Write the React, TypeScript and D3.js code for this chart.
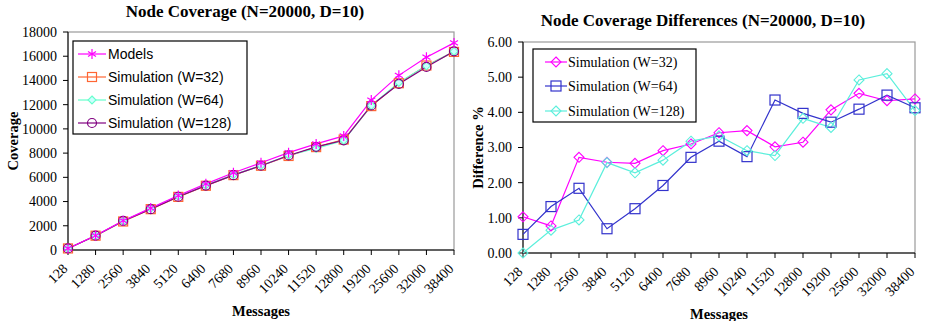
import React from "react";
import * as d3 from "d3";

const messages = ["128", "1280", "2560", "3840", "5120", "6400", "7680", "8960", "10240", "11520", "12800", "19200", "25600", "32000", "38400"];

// left chart: node coverage
const models = [130, 1190, 2420, 3460, 4500, 5460, 6380, 7200, 8040, 8760, 9420, 12380, 14420, 15920, 17100];
const simW32 = [129, 1181, 2355, 3371, 4385, 5303, 6182, 6957, 7763, 8495, 9123, 11881, 13771, 15232, 16356];
const simW64 = [129, 1174, 2376, 3436, 4443, 5355, 6208, 6971, 7823, 8381, 9048, 11922, 13836, 15212, 16395];
const simW128 = [130, 1182, 2397, 3372, 4398, 5317, 6178, 6959, 7807, 8517, 9057, 11934, 13713, 15116, 16404];
const coverageTicks = [0, 2000, 4000, 6000, 8000, 10000, 12000, 14000, 16000, 18000];

// right chart: differences in %
const diffW32 = [1.03, 0.77, 2.72, 2.58, 2.55, 2.91, 3.1, 3.42, 3.48, 3.02, 3.15, 4.07, 4.54, 4.33, 4.38];
const diffW64 = [0.53, 1.32, 1.84, 0.69, 1.26, 1.92, 2.72, 3.18, 2.74, 4.35, 3.97, 3.72, 4.09, 4.49, 4.13];
const diffW128 = [0.0, 0.65, 0.94, 2.57, 2.28, 2.64, 3.18, 3.33, 2.91, 2.77, 3.83, 3.57, 4.92, 5.1, 4.05];
const diffTicks = [0, 1, 2, 3, 4, 5, 6];

const SERIF = "'Liberation Serif', 'Times New Roman', serif";
const SANS = "'Liberation Sans', Arial, sans-serif";

type Shape = "star" | "square" | "diamond" | "circle";

function Marker({ shape, x, y, size, stroke, fill }: { shape: Shape; x: number; y: number; size: number; stroke: string; fill: string }) {
  if (shape === "square")
    return <rect x={x - size} y={y - size} width={size * 2} height={size * 2} fill={fill} stroke={stroke} strokeWidth={1.2} />;
  if (shape === "circle") return <circle cx={x} cy={y} r={size} fill={fill} stroke={stroke} strokeWidth={1.2} />;
  if (shape === "diamond")
    return (
      <path
        d={`M${x},${y - size}L${x + size},${y}L${x},${y + size}L${x - size},${y}Z`}
        fill={fill}
        stroke={stroke}
        strokeWidth={1.1}
      />
    );
  const d = size * 0.8;
  return (
    <path
      d={`M${x},${y - size}V${y + size}M${x - d},${y - d * 0.6}L${x + d},${y + d * 0.6}M${x - d},${y + d * 0.6}L${x + d},${y - d * 0.6}`}
      stroke={stroke}
      strokeWidth={1.2}
      fill="none"
    />
  );
}

type Series = { name: string; values: number[]; color: string; shape: Shape; size: number; fill: string };

function Chart({
  title,
  titleY,
  yLabel,
  yLabelX,
  x0,
  x1,
  yTop,
  yBot,
  domain,
  ticks,
  tickFmt,
  series,
  drawOrder,
  legend,
}: {
  title: string;
  titleY: number;
  yLabel: string;
  yLabelX: number;
  x0: number;
  x1: number;
  yTop: number;
  yBot: number;
  domain: [number, number];
  ticks: number[];
  tickFmt: (v: number) => string;
  series: Series[];
  drawOrder: number[];
  legend: { x: number; y: number; w: number; h: number; rows: number[]; lineX: [number, number]; textX: number; font: string };
}) {
  const x = d3.scalePoint<string>().domain(messages).range([x0, x1]).padding(0);
  const y = d3.scaleLinear().domain(domain).range([yBot, yTop]);
  const line = d3
    .line<number>()
    .x((_, i) => x(messages[i]) as number)
    .y((v) => y(v));
  const cx = (x0 + x1) / 2;

  return (
    <g>
      <text x={cx - 16} y={titleY} textAnchor="middle" fontFamily={SERIF} fontWeight="bold" fontSize={17}>
        {title}
      </text>
      <rect x={x0} y={yTop} width={x1 - x0} height={yBot - yTop} fill="white" stroke="#9a9a9a" strokeWidth={1.2} />
      {/* y axis */}
      <line x1={x0} x2={x0} y1={yTop} y2={yBot} stroke="black" />
      {ticks.map((t) => (
        <g key={t}>
          <line x1={x0 - 5} x2={x0} y1={y(t)} y2={y(t)} stroke="black" />
          <text x={x0 - 11} y={y(t)} dy="0.35em" textAnchor="end" fontFamily={SERIF} fontSize={14}>
            {tickFmt(t)}
          </text>
        </g>
      ))}
      {/* x axis */}
      <line x1={x0} x2={x1} y1={yBot} y2={yBot} stroke="black" />
      {messages.map((m) => (
        <g key={m}>
          <line x1={x(m)} x2={x(m)} y1={yBot} y2={yBot + 5} stroke="black" />
          <text
            transform={`translate(${(x(m) as number) - 3},${yBot + 16}) rotate(-45)`}
            textAnchor="end"
            dy="0.35em"
            fontFamily={SERIF}
            fontSize={14}
          >
            {m}
          </text>
        </g>
      ))}
      <text x={cx} y={yBot + 66} textAnchor="middle" fontFamily={SERIF} fontWeight="bold" fontSize={14.5}>
        Messages
      </text>
      <text
        transform={`translate(${yLabelX},${(yTop + yBot) / 2}) rotate(-90)`}
        textAnchor="middle"
        fontFamily={SERIF}
        fontWeight="bold"
        fontSize={14.5}
      >
        {yLabel}
      </text>
      {/* series lines then markers */}
      {drawOrder.map((i) => (
        <path key={"l" + i} d={line(series[i].values) || ""} fill="none" stroke={series[i].color} strokeWidth={1.2} />
      ))}
      {drawOrder.map((i) =>
        series[i].values.map((v, j) => (
          <Marker
            key={i + "-" + j}
            shape={series[i].shape}
            x={x(messages[j]) as number}
            y={y(v)}
            size={series[i].size}
            stroke={series[i].color}
            fill={series[i].fill}
          />
        ))
      )}
      {/* legend */}
      <rect x={legend.x} y={legend.y} width={legend.w} height={legend.h} fill="white" stroke="black" strokeWidth={1.2} />
      {series.map((s, i) => {
        const ry = legend.rows[i];
        return (
          <g key={s.name}>
            <line x1={legend.lineX[0]} x2={legend.lineX[1]} y1={ry} y2={ry} stroke={s.color} strokeWidth={1.2} />
            <Marker
              shape={s.shape}
              x={(legend.lineX[0] + legend.lineX[1]) / 2}
              y={ry}
              size={s.size}
              stroke={s.color}
              fill={s.fill}
            />
            <text x={legend.textX} y={ry} dy="0.35em" fontFamily={legend.font} fontSize={14}>
              {s.name}
            </text>
          </g>
        );
      })}
    </g>
  );
}

export default function App() {
  const leftSeries: Series[] = [
    { name: "Models", values: models, color: "#FF00FF", shape: "star", size: 5, fill: "none" },
    { name: "Simulation (W=32)", values: simW32, color: "#FF6633", shape: "square", size: 4.5, fill: "none" },
    { name: "Simulation (W=64)", values: simW64, color: "#66FFCC", shape: "diamond", size: 4, fill: "#CCFFFF" },
    { name: "Simulation (W=128)", values: simW128, color: "#800080", shape: "circle", size: 4.5, fill: "none" },
  ];
  const rightSeries: Series[] = [
    { name: "Simulation (W=32)", values: diffW32, color: "#FF00FF", shape: "diamond", size: 5, fill: "none" },
    { name: "Simulation (W=64)", values: diffW64, color: "#3333CC", shape: "square", size: 5, fill: "none" },
    { name: "Simulation (W=128)", values: diffW128, color: "#5CEFDC", shape: "diamond", size: 5, fill: "none" },
  ];

  return (
    <svg width={926} height={321} style={{ position: "absolute", left: 0, top: 0, background: "white" }}>
      <Chart
        title="Node Coverage (N=20000, D=10)"
        titleY={17}
        yLabel="Coverage"
        yLabelX={18}
        x0={68}
        x1={454}
        yTop={32}
        yBot={250}
        domain={[0, 18000]}
        ticks={coverageTicks}
        tickFmt={(v) => String(v)}
        series={leftSeries}
        drawOrder={[1, 2, 3, 0]}
        legend={{ x: 73, y: 41, w: 174, h: 93, rows: [54, 77, 100, 123], lineX: [78, 106], textX: 108, font: SANS }}
      />
      <Chart
        title="Node Coverage Differences (N=20000, D=10)"
        titleY={26}
        yLabel="Difference %"
        yLabelX={483}
        x0={523}
        x1={915}
        yTop={42}
        yBot={253}
        domain={[0, 6]}
        ticks={diffTicks}
        tickFmt={(v) => v.toFixed(2)}
        series={rightSeries}
        drawOrder={[0, 1, 2]}
        legend={{ x: 533, y: 49, w: 163, h: 73, rows: [62, 86, 111], lineX: [545, 567], textX: 568, font: SERIF }}
      />
    </svg>
  );
}
